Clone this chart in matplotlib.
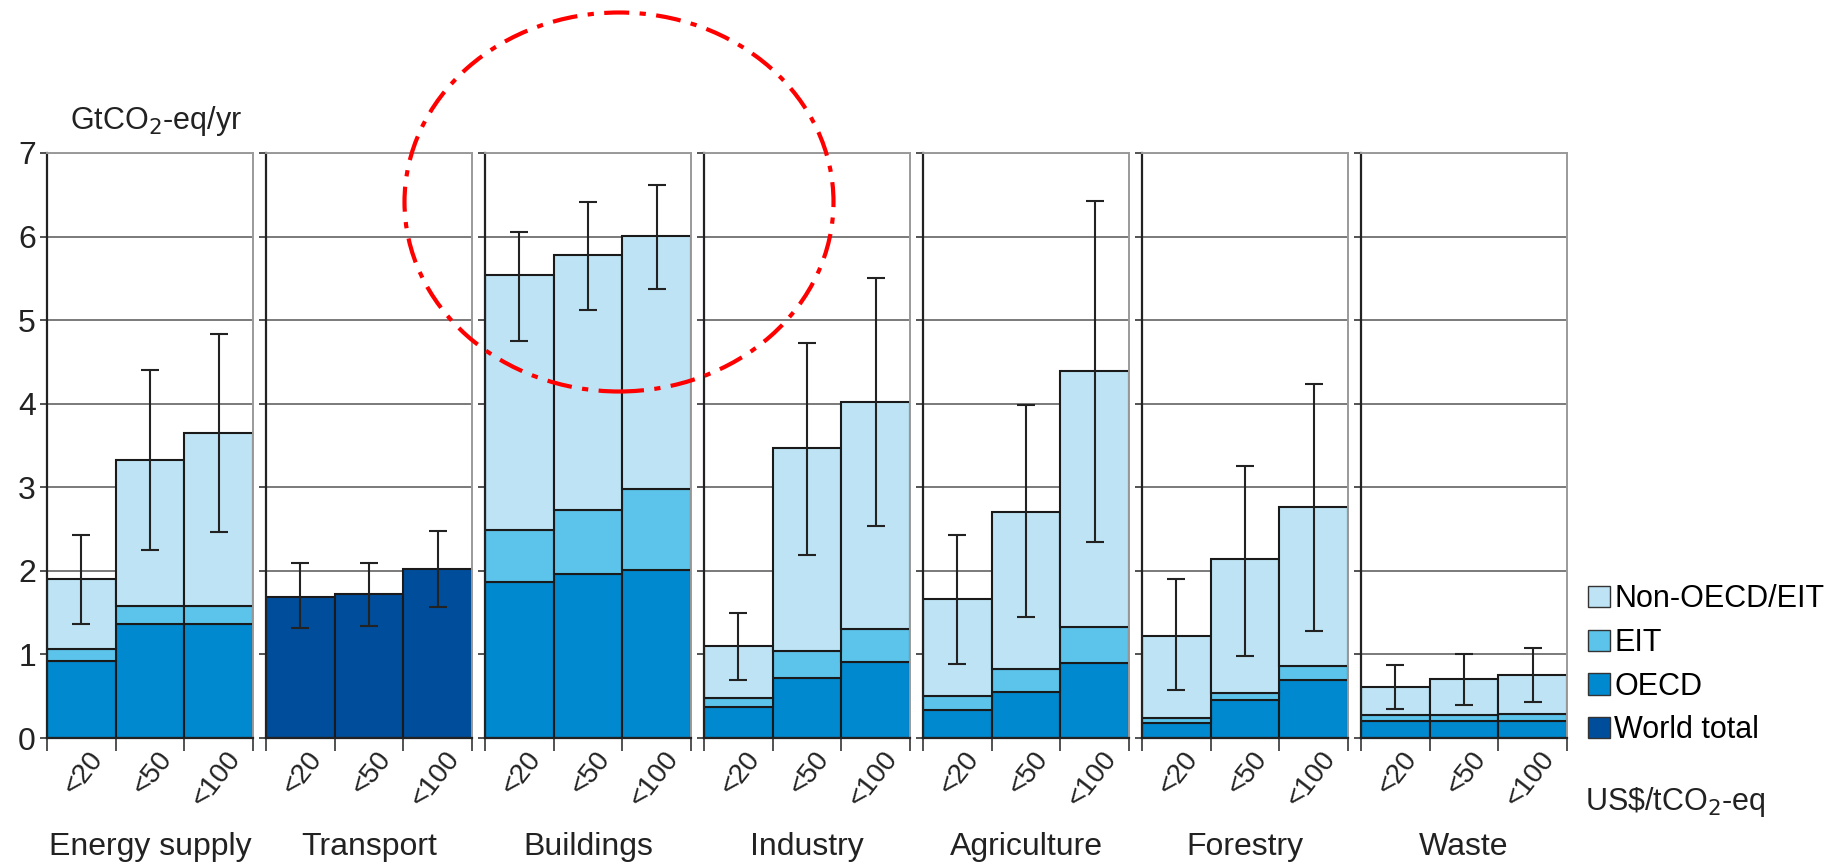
import matplotlib
matplotlib.use("Agg")
import matplotlib.pyplot as plt
from matplotlib.patches import Patch, Ellipse
import numpy as np

plt.rcParams['font.family'] = ['Liberation Sans', 'DejaVu Sans']

sectors = ["Energy supply", "Transport", "Buildings", "Industry",
           "Agriculture", "Forestry", "Waste"]
price_labels = ["<20", "<50", "<100"]

# segment heights per sector, one value per price class (GtCO2-eq/yr)
oecd = [[0.92, 1.36, 1.36], [0, 0, 0], [1.87, 1.96, 2.01], [0.37, 0.72, 0.91],
        [0.34, 0.55, 0.90], [0.18, 0.45, 0.69], [0.20, 0.20, 0.20]]
eit = [[0.15, 0.22, 0.22], [0, 0, 0], [0.62, 0.77, 0.97], [0.11, 0.32, 0.39],
       [0.16, 0.28, 0.43], [0.06, 0.09, 0.17], [0.07, 0.07, 0.09]]
non_oecd = [[0.83, 1.75, 2.07], [0, 0, 0], [3.05, 3.05, 3.03], [0.62, 2.43, 2.72],
            [1.16, 1.88, 3.06], [0.98, 1.60, 1.90], [0.34, 0.44, 0.46]]
world_total = [[0, 0, 0], [1.69, 1.72, 2.02], [0, 0, 0], [0, 0, 0],
               [0, 0, 0], [0, 0, 0], [0, 0, 0]]

err_low = [[1.36, 2.25, 2.47], [1.32, 1.34, 1.57], [4.75, 5.12, 5.37], [0.70, 2.19, 2.54],
           [0.89, 1.45, 2.34], [0.58, 0.98, 1.28], [0.35, 0.40, 0.43]]
err_high = [[2.43, 4.40, 4.84], [2.09, 2.10, 2.48], [6.06, 6.41, 6.62], [1.49, 4.73, 5.51],
            [2.43, 3.99, 6.42], [1.90, 3.26, 4.24], [0.87, 1.01, 1.08]]

c_non = '#bde3f4'
c_eit = '#5cc4eb'
c_oecd = '#0089cf'
c_world = '#004d9b'
edge = '#1a1a1a'

W, H = 1841, 865
fig = plt.figure(figsize=(W / 100, H / 100), dpi=100)

left0, pw, step = 47, 206, 219
y_bot, y_top = 738, 153

for i, name in enumerate(sectors):
    ax = fig.add_axes([(left0 + i * step) / W, (H - y_bot) / H, pw / W, (y_bot - y_top) / H])
    x = np.arange(3) + 0.5
    o = np.array(oecd[i])
    e = np.array(eit[i])
    n = np.array(non_oecd[i])
    w = np.array(world_total[i])
    kw = dict(width=1.0, edgecolor=edge, linewidth=1.5, zorder=2)
    if w.sum() > 0:
        ax.bar(x, w, color=c_world, **kw)
        tot = w
    else:
        ax.bar(x, o, color=c_oecd, **kw)
        ax.bar(x, e, bottom=o, color=c_eit, **kw)
        ax.bar(x, n, bottom=o + e, color=c_non, **kw)
        tot = o + e + n
    lo = np.array(err_low[i])
    hi = np.array(err_high[i])
    ax.errorbar(x, tot, yerr=[tot - lo, hi - tot], fmt='none', ecolor='#222222',
                elinewidth=1.5, capsize=6.5, capthick=1.5, zorder=3)

    ax.set_xlim(0, 3)
    ax.set_ylim(0, 7)
    ax.set_yticks(range(8))
    ax.yaxis.grid(True, color='#7a7a7a', linewidth=1.4, zorder=0)
    ax.set_axisbelow(True)
    ax.set_xticks([0, 1, 2, 3])
    ax.set_xticklabels([])
    ax.tick_params(axis='x', direction='out', length=9, width=1.3, color='#444444')
    ax.tick_params(axis='y', direction='out', length=5, width=1.3, color='#444444',
                   labelsize=23, pad=3, labelcolor='#222222')
    if i > 0:
        ax.set_yticklabels([])
    for s in ['left', 'bottom']:
        ax.spines[s].set_color('#222222')
        ax.spines[s].set_linewidth(1.6)
    for s in ['top', 'right']:
        ax.spines[s].set_color('#9a9a9a')
        ax.spines[s].set_linewidth(1.4)

    for j, lab in enumerate(price_labels):
        ax.text(x[j] + 0.25, -0.2, lab, rotation=52, rotation_mode='anchor',
                ha='right', va='center', fontsize=20, color='#222222', clip_on=False)
    ax.text(1.5, -1.3, name, ha='center', va='center', fontsize=23, color='#222222',
            clip_on=False)

fig.text(70 / W, 1 - 121 / H, 'GtCO$_2$-eq/yr', fontsize=22, color='#222222',
         ha='left', va='center')
fig.text(1585 / W, 1 - 802 / H, r'US\$/tCO$_2$-eq', fontsize=22, color='#222222',
         ha='left', va='center')

handles = [Patch(facecolor=c_non, edgecolor='#333333', label='Non-OECD/EIT'),
           Patch(facecolor=c_eit, edgecolor='#333333', label='EIT'),
           Patch(facecolor=c_oecd, edgecolor='#333333', label='OECD'),
           Patch(facecolor=c_world, edgecolor='#333333', label='World total')]
fig.legend(handles=handles, loc='upper left', bbox_to_anchor=(1576 / W, 1 - 572 / H),
           frameon=False, fontsize=22, handlelength=0.7, handleheight=0.7,
           handletextpad=0.15, labelspacing=0.45, borderaxespad=0)

circle = Ellipse((619 / W, 1 - 202 / H), 429 / W, 379 / H, transform=fig.transFigure,
                 fill=False, edgecolor='red', linewidth=3,
                 linestyle=(0, (6, 2.5, 1.5, 2.5)), zorder=10)
fig.add_artist(circle)

fig.savefig('out.png', dpi=100)
